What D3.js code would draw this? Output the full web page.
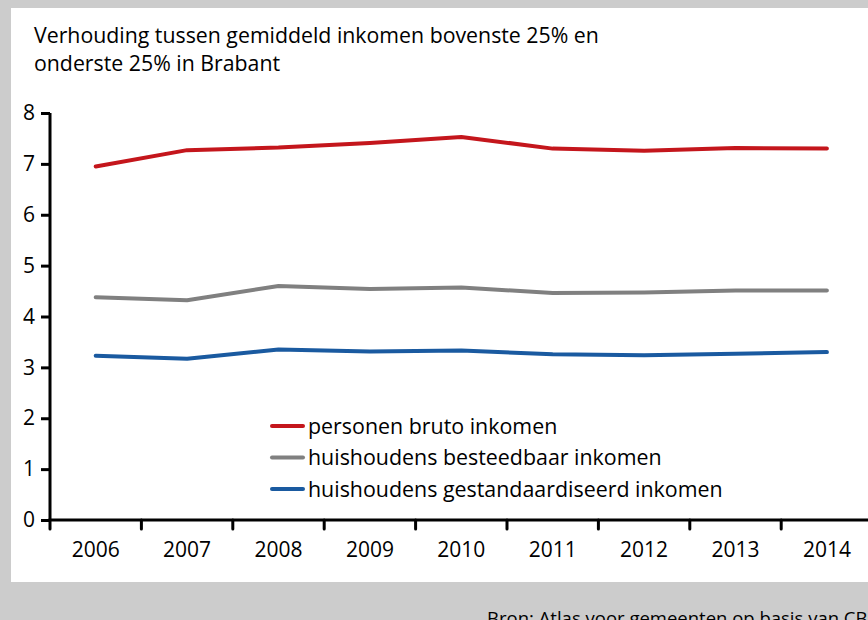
<!DOCTYPE html>
<html>
<head>
<meta charset="utf-8">
<script src="https://cdn.jsdelivr.net/npm/d3@7/dist/d3.min.js"></script>
<style>
html,body{margin:0;padding:0;background:#cccccc;}
svg{display:block;}
text{font-family:"Open Sans","Noto Sans",sans-serif;fill:#000;}
</style>
</head>
<body>
<svg id="chart" width="868" height="620"></svg>
<script>
const years = ["2006","2007","2008","2009","2010","2011","2012","2013","2014"];
const brutoPersonen = [6.95, 7.27, 7.32, 7.41, 7.53, 7.30, 7.26, 7.31, 7.30];
const besteedbaarHuish = [4.38, 4.32, 4.60, 4.54, 4.57, 4.46, 4.47, 4.51, 4.51];
const gestandaardHuish = [3.23, 3.17, 3.35, 3.31, 3.33, 3.26, 3.24, 3.27, 3.30];
const seriesNames = ["personen bruto inkomen","huishoudens besteedbaar inkomen","huishoudens gestandaardiseerd inkomen"];
const seriesColors = ["#c4161c","#808080","#1a5aa0"];
const yTicks = [0,1,2,3,4,5,6,7,8];
const titleLines = ["Verhouding tussen gemiddeld inkomen bovenste 25% en","onderste 25% in Brabant"];
const sourceText = "Bron: Atlas voor gemeenten op basis van CBS";

const series = [brutoPersonen, besteedbaarHuish, gestandaardHuish];
const svg = d3.select("#chart");

// panels
svg.append("rect").attr("x",0).attr("y",0).attr("width",868).attr("height",620).attr("fill","#cccccc");
svg.append("rect").attr("x",11).attr("y",8).attr("width",857).attr("height",574).attr("fill","#ffffff");

// title
svg.append("g").selectAll("text").data(titleLines).join("text")
  .attr("x",34).attr("y",(d,i)=>43+i*28)
  .attr("font-size",21.3).text(d=>d);

const x = d3.scaleBand().domain(years).range([50, 50+9*91.4]);
const y = d3.scaleLinear().domain([0,8]).range([520,113]);

// y axis
const yAxis = svg.append("g").attr("transform","translate(50,0)")
  .call(d3.axisLeft(y).tickValues(yTicks).tickSize(9).tickPadding(6).tickFormat(d3.format("d")));
yAxis.select(".domain").attr("stroke","#000").attr("stroke-width",3).attr("d","M0,113V520");
yAxis.selectAll(".tick line").attr("stroke","#000").attr("stroke-width",3);
yAxis.selectAll(".tick text").attr("font-size",21).attr("fill","#000").attr("font-family","Open Sans");

// x axis
const xAxis = svg.append("g").attr("transform","translate(0,520)")
  .call(d3.axisBottom(x).tickSize(0).tickPadding(22));
xAxis.select(".domain").attr("stroke","#000").attr("stroke-width",3).attr("d","M48.5,0H875");
xAxis.selectAll(".tick text").attr("font-size",21).attr("fill","#000").attr("font-family","Open Sans");
// boundary ticks
const bounds = years.map(d=>x(d)).concat([x(years[years.length-1])+x.bandwidth()]);
xAxis.append("g").selectAll("line").data(bounds).join("line")
  .attr("x1",d=>d).attr("x2",d=>d).attr("y1",0).attr("y2",9)
  .attr("stroke","#000").attr("stroke-width",3).attr("stroke-linecap","round");

// lines
const line = d3.line().x((d,i)=>x(years[i])+x.bandwidth()/2).y(d=>y(d));
svg.append("g").selectAll("path").data(series).join("path")
  .attr("d",d=>line(d)).attr("fill","none")
  .attr("stroke",(d,i)=>seriesColors[i]).attr("stroke-width",4)
  .attr("stroke-linejoin","round").attr("stroke-linecap","round");

// legend
const leg = svg.append("g").selectAll("g").data(seriesNames).join("g")
  .attr("transform",(d,i)=>`translate(272,${426+i*31.5})`);
leg.append("line").attr("x1",0).attr("x2",31).attr("y1",0).attr("y2",0)
  .attr("stroke",(d,i)=>seriesColors[i]).attr("stroke-width",4).attr("stroke-linecap","round");
leg.append("text").attr("x",36).attr("y",7.5).attr("font-size",21.4).text(d=>d);

// source
svg.append("text").attr("x",487).attr("y",625).attr("font-size",18.5).text(sourceText);
</script>
</body>
</html>
